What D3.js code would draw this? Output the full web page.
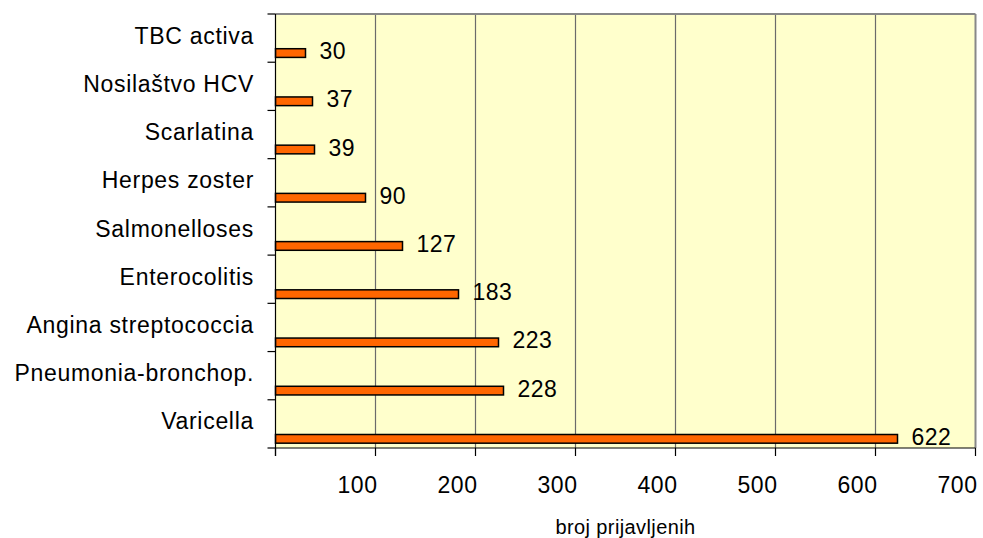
<!DOCTYPE html>
<html>
<head>
<meta charset="utf-8">
<script src="https://cdn.jsdelivr.net/npm/d3@7"></script>
<style>
  html, body { margin: 0; padding: 0; background: #ffffff; }
  svg { display: block; }
  text { font-family: "Liberation Sans", Arial, sans-serif; fill: #000; }
</style>
</head>
<body>
<div id="chart"></div>
<script>
const categories = ["TBC activa", "Nosilaštvo HCV", "Scarlatina", "Herpes zoster", "Salmonelloses", "Enterocolitis", "Angina streptococcia", "Pneumonia-bronchop.", "Varicella"];
const values = [30, 37, 39, 90, 127, 183, 223, 228, 622];
const xTicks = [100, 200, 300, 400, 500, 600, 700];
const xTitle = "broj prijavljenih";

const W = 983, H = 538;
const margin = { top: 14, right: 7.5, bottom: 90, left: 275.5 };
const iw = W - margin.left - margin.right;
const ih = H - margin.top - margin.bottom;

const svg = d3.select("#chart").append("svg").attr("width", W).attr("height", H);
const g = svg.append("g").attr("transform", `translate(${margin.left},${margin.top})`);

const x = d3.scaleLinear().domain([0, 700]).range([0, iw]);
const y = d3.scaleBand().domain(categories).range([0, ih]).padding(0);
const bw = y.bandwidth();

// background
g.append("rect").attr("x", 0).attr("y", 0).attr("width", iw).attr("height", ih).attr("fill", "#FFFFCC");

// gridlines
g.selectAll("line.grid").data(xTicks.filter(t => t < 700)).enter().append("line")
  .attr("class", "grid")
  .attr("x1", d => x(d)).attr("x2", d => x(d))
  .attr("y1", 0).attr("y2", ih)
  .attr("stroke", "#6b6b6b").attr("stroke-width", 1.2);

// top and right border
g.append("line").attr("x1", 0).attr("x2", iw).attr("y1", 0).attr("y2", 0).attr("stroke", "#888").attr("stroke-width", 2);
g.append("line").attr("x1", iw).attr("x2", iw).attr("y1", 0).attr("y2", ih).attr("stroke", "#888").attr("stroke-width", 2);

// bars
g.selectAll("rect.bar").data(values).enter().append("rect")
  .attr("class", "bar")
  .attr("x", x(0))
  .attr("y", (d, i) => y(categories[i]) + bw * 0.72)
  .attr("width", d => x(d) - x(0))
  .attr("height", bw * 0.18)
  .attr("fill", "#FF6600")
  .attr("stroke", "#000").attr("stroke-width", 1.5);

// value labels
g.selectAll("text.val").data(values).enter().append("text")
  .attr("class", "val")
  .attr("x", d => x(d) + 14)
  .attr("y", (d, i) => y(categories[i]) + bw * 0.81 - 2)
  .attr("dy", "0.35em")
  .style("font-size", "23px").style("letter-spacing", "0.5px")
  .text(d => d);

// y axis
const yAxisG = g.append("g");
yAxisG.append("line").attr("x1", 0).attr("x2", 0).attr("y1", 0).attr("y2", ih + 8).attr("stroke", "#000").attr("stroke-width", 1.2);
const bounds = categories.map(c => y(c)).concat([ih]);
yAxisG.selectAll("line.yt").data(bounds).enter().append("line")
  .attr("x1", -8).attr("x2", 0).attr("y1", d => d).attr("y2", d => d)
  .attr("stroke", "#000").attr("stroke-width", 1.2);
yAxisG.selectAll("text.cat").data(categories).enter().append("text")
  .attr("x", -21.5)
  .attr("y", d => y(d) + bw / 2 - 2.5)
  .attr("dy", "0.35em")
  .attr("text-anchor", "end")
  .style("font-size", "23px").style("letter-spacing", "0.7px")
  .text(d => d);

// x axis
const xAxisG = g.append("g").attr("transform", `translate(0,${ih})`);
xAxisG.append("line").attr("x1", 0).attr("x2", iw).attr("y1", 0).attr("y2", 0).attr("stroke", "#000").attr("stroke-width", 1.2);
xAxisG.selectAll("line.xt").data([0].concat(xTicks)).enter().append("line")
  .attr("x1", d => x(d)).attr("x2", d => x(d)).attr("y1", 0).attr("y2", 8)
  .attr("stroke", "#000").attr("stroke-width", 1.2);
xAxisG.selectAll("text.xl").data(xTicks).enter().append("text")
  .attr("x", d => x(d) - 18)
  .attr("y", 37)
  .attr("dy", "0.35em")
  .attr("text-anchor", "middle")
  .style("font-size", "23px").style("letter-spacing", "0.5px")
  .text(d => d);

// x title
g.append("text")
  .attr("x", iw / 2)
  .attr("y", ih + 79)
  .attr("dy", "0.35em")
  .attr("text-anchor", "middle")
  .style("font-size", "20px").style("letter-spacing", "0.4px")
  .text(xTitle);
</script>
</body>
</html>
